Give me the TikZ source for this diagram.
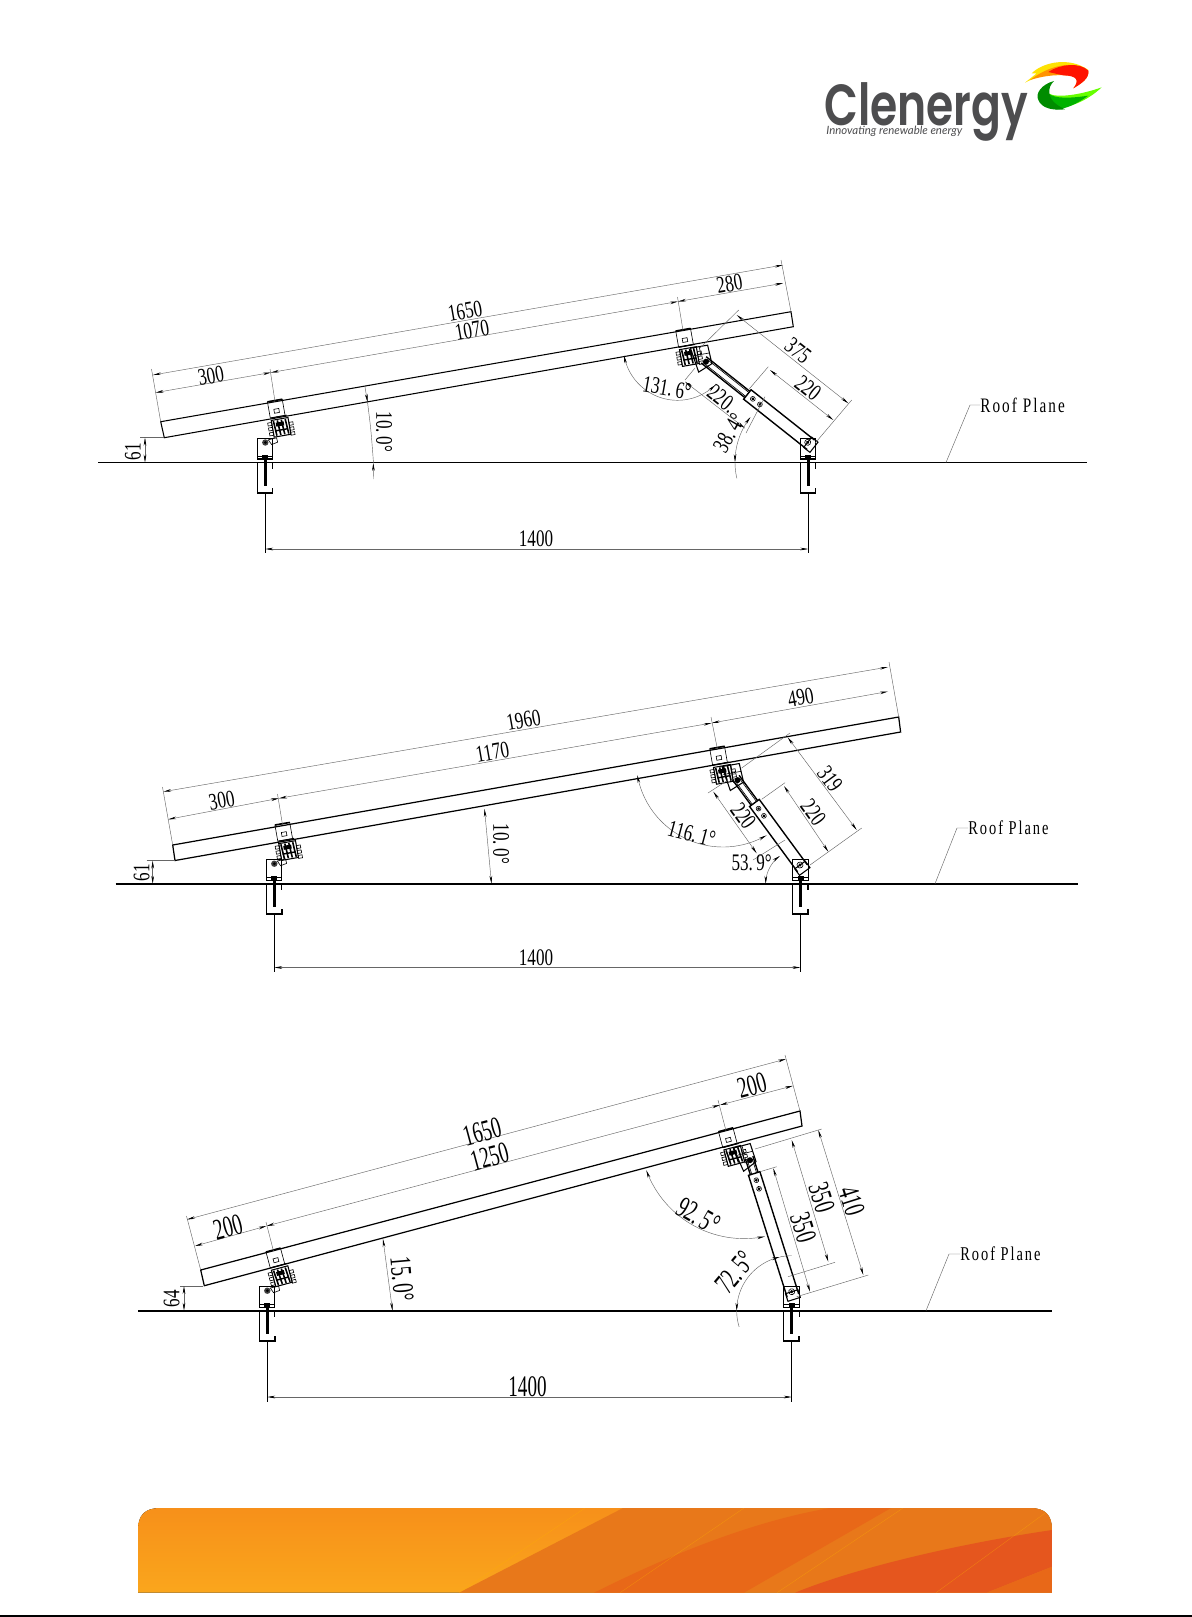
\documentclass[tikz,border=0pt]{standalone}
\usepackage{xcolor}
\usepackage{fontspec}
\usetikzlibrary{arrows.meta}
\newfontfamily\dimfont[FakeStretch=0.72]{Liberation Serif}
\newfontfamily\dimfontB[FakeStretch=0.64]{Liberation Serif}
\newfontfamily\roofont[FakeStretch=0.74,LetterSpace=10]{Liberation Serif}
\newfontfamily\logofont[FakeStretch=0.76]{Poppins SemiBold}
\newfontfamily\tagfont{Lato}
\definecolor{logogray}{HTML}{4D4D4F}
\definecolor{bandtop}{HTML}{F7901A}
\definecolor{bandbottom}{HTML}{FAA61C}
\definecolor{bandone}{HTML}{E8781A}
\definecolor{bandtwo}{HTML}{E86818}
\definecolor{bandthree}{HTML}{E5561E}
\tikzset{
  partline/.style={line width=0.6pt},
  railline/.style={line width=0.6pt},
  thinpart/.style={line width=0.35pt},
  extline/.style={line width=0.25pt,draw=black!60},
  dimtip/.style={-{Stealth[length=4.5pt,width=1.5pt,black]}},
  dimline/.style={line width=0.25pt,draw=black!60,{Stealth[length=4.5pt,width=1.5pt,black]}-{Stealth[length=4.5pt,width=1.5pt,black]}},
  dimtext/.style={font=\dimfont\fontsize{13.5}{15}\selectfont,inner sep=0pt,yshift=-0.5pt},
  dimtextB/.style={font=\dimfontB\fontsize{17}{19}\selectfont,inner sep=0pt,yshift=-0.5pt},
  rooftext/.style={font=\roofont\fontsize{11.7}{13}\selectfont,inner sep=0pt},
  rooftextB/.style={font=\roofont\fontsize{11.1}{13}\selectfont,inner sep=0pt},
  footstreak/.style={line width=0.2pt,draw=orange!60!yellow,opacity=0.45},
}
% wide gap after the point, as the drawing's font has it
\newcommand{\dpt}{.\kern2pt}
% arc of a dimension, angles as seen on the sheet
\newcommand{\dimarc}[6][]{\draw[extline,#1] plot[domain=#5:#6,samples=40,variable=\t] ({#2+#4*cos(\t)},{#3-#4*sin(\t)});}
\newcommand{\railclamp}[3]{%
\begin{scope}[shift={(#1,#2)},rotate=#3]
  \draw[thinpart] (-7.5,-1) rectangle (7.5,15.5);
  \draw[line width=0.9pt] (-7.5,-1) -- (7.5,-1);
  \draw[thinpart] (-2.5,7.5) rectangle (2.5,11.5);
  \draw[partline] (-7,15.5) -- (9,15.5);
  \draw[partline] (-7,18) rectangle (10,35);
  \foreach \i in {-5,-1,3,7}
    \draw[line width=0.9pt] (\i,19) -- (\i+1,34);
  \fill (-3,21) rectangle (5,25);
  \draw[line width=0.8pt] (-5,29) -- (8,29);
  \foreach \i in {20,25,30}
    \draw[thinpart] (-11,\i) rectangle (-7,\i+3);
  \foreach \i in {23,28,33}
    \draw[thinpart] (10,\i) rectangle (14,\i+3);
\end{scope}}
\newcommand{\footbracket}[3][0.6pt]{%
\begin{scope}[shift={(#2,#3)}]
  \draw[thinpart] (-8,-3) -- (-8,-24.5) -- (7.5,-24.5) -- (7.5,-3);
  \draw[partline] (-8,-6) -- (7.5,-6);
  \draw[partline] (-8,-3.5) -- (7.5,-3.5);
  \draw[line width=#1] (-8,0) -- (-8,30.5) -- (7.5,30.5) -- (7.5,25);
  \draw[partline] (7.5,0) -- (7.5,6);
  \draw[line width=1.5pt] (0,-6) -- (0,23);
  \fill (-3,-8) rectangle (3,-4);
\end{scope}}
\newcommand{\footlink}[2]{%
\begin{scope}[shift={(#1,#2)}]
  \fill[black!75] (0,-20) circle[radius=3.2];
  \fill (0,-20) circle[radius=1.5];
  \draw[thinpart] (3,-22.7) -- (11.3,-24.7) -- (12.3,-20.3) -- (6.3,-18) -- cycle;
\end{scope}}
% pivot, angle, length, end of sleeve, slope of the rail
\newcommand{\strutarm}[6]{%
\begin{scope}[shift={(#1,#2)},rotate=#3]
  \draw[partline] (-8,-6.5) rectangle (0,6.5);
  \draw[line width=0.8pt] (-4,-6) -- (#5,-6) -- (#5,6) -- (-4,6);
  \draw[line width=0.8pt] (#5,-4) -- (#4+3,-4) (#5,4) -- (#4+3,4);
  \draw[thinpart] (#5,-2.5) -- (#4,-2.5) (#5,2.5) -- (#4,2.5);
  \fill (0,0) circle[radius=1.8];
  \draw[thinpart] (0,0) circle[radius=3];
  \foreach \i in {7,16} {
    \draw[thinpart] (#5-\i,0) circle[radius=2.4];
    \fill (#5-\i,0) circle[radius=1.6];
  }
  \begin{scope}[shift={(#4,0)},rotate=#6-#3]
    \draw[partline] (-13,-16) -- (4.5,-16) -- (5.5,3) -- (-9,9) -- cycle;
    \draw[thinpart] (-4,-16) -- (-4,-7) (-13,-8) -- (5,-8);
    \fill (0,0) circle[radius=3];
  \end{scope}
\end{scope}}
\begin{document}
\begin{tikzpicture}[x=0.02cm,y=-0.02cm]
\useasboundingbox (0,0) rectangle (1192,1617);
\fill[white] (0,0) rectangle (1192,1617);
% logo
\begin{scope}[shift={(780,30)},scale=1/3]
  \fill[yellow!85!orange] (735,158) -- (770,130) -- (755,130) .. controls (790,95) and (870,80) .. (925,120) .. controls (880,108) and (800,125) .. (735,158);
  \fill[orange!85!yellow] (750,150) .. controls (810,105) and (880,90) .. (925,122) .. controls (928,145) and (905,160) .. (880,175) .. controls (900,150) and (890,136) .. (860,136) .. controls (820,134) and (790,138) .. (750,150);
  \fill[red!85!orange] (805,126) .. controls (840,102) and (900,96) .. (925,122) .. controls (928,145) and (905,160) .. (880,175) .. controls (900,150) and (890,137) .. (850,136) -- cycle;
  \fill[green!60!yellow] (805,190) .. controls (830,205) and (900,195) .. (965,172) .. controls (930,205) and (880,232) .. (830,234) .. controls (800,225) and (800,205) .. (805,190);
  \fill[green!70!black] (805,190) .. controls (825,207) and (870,205) .. (925,197) .. controls (890,222) and (860,236) .. (830,238) .. controls (800,228) and (800,205) .. (805,190);
  \fill[green!55!black] (822,153) .. controls (785,163) and (765,190) .. (775,210) .. controls (785,234) and (815,242) .. (855,238) .. controls (835,228) and (812,215) .. (808,190) .. controls (806,175) and (812,163) .. (822,153);
\end{scope}
\node[font=\logofont\fontsize{33}{36}\selectfont,text=logogray,anchor=base west,inner sep=0pt] (logoname) at (824,125) {Clenergy};
\node[font=\tagfont\itshape\fontsize{6.5}{8}\selectfont,text=logogray,anchor=base west,inner sep=0pt] (logotag) at (826,134) {Innovating renewable energy};
% top panel
\draw[railline] (160.7,421.7) -- (791,311.7) -- (793.3,326.7) -- (164.3,437.7) -- cycle;
\draw[railline] (98,462.5) -- (1087,462.5);
\railclamp{275}{401.5}{10}
\railclamp{683.3}{330.7}{10}
\footbracket{265.3}{462.5}
\footlink{265.3}{462.5}
\footbracket{808.3}{462.5}
\strutarm{807.7}{442.3}{141.6}{129.8}{77}{10}
\draw[thinpart] (265.3,493) -- (265.3,553);
\draw[thinpart] (808.3,493) -- (808.3,553);
\draw[dimline] (265.3,549) -- (808.3,549);
\draw[extline] (160.7,421.7) -- (151.5,369);
\draw[extline] (791,311.7) -- (781,260);
\draw[dimline] (153,375) -- (783,265);
\draw[dimline] (155.6,392.6) -- (271,372.5);
\draw[dimline] (271,372.5) -- (678,301.5);
\draw[dimline] (678,301.5) -- (783,283.2);
\draw[extline] (275,401.5) -- (270,369);
\draw[extline] (683,330.5) -- (677.5,297);
\draw[extline] (738.7,310) -- (700,348);
\draw[extline] (851.7,400) -- (815,443.3);
\draw[dimline] (736.7,315) -- (848.3,403.3);
\draw[extline] (768.3,366.7) -- (748.3,390);
\draw[dimline] (770,370) -- (833.3,420);
\draw[extline] (765,396.7) -- (746,433);
\draw[extline] (685,380) -- (695,368);
\draw[dimline] (685,381.7) -- (745,428.3);
\dimarc[dimline]{677.5}{346}{54.3}{190}{314}
\dimarc{808}{462}{73}{193}{180}
\dimarc[dimline]{808}{462}{73}{180}{142}
\draw[extline,dimtip] (365,387) -- (367.5,402);
\draw[extline] (367.5,402) .. controls (371,430) .. (373.5,463);
\draw[extline,dimtip] (373.5,479) -- (373.3,463);
\draw[extline] (140,437.7) -- (164,437.7);
\draw[dimline] (145,437.7) -- (145,462.5);
\node[dimtext,rotate=10] (lenA) at (465,310) {1650};
\node[dimtext,rotate=10] (spanA) at (472,329) {1070};
\node[dimtext,rotate=10] (leftA) at (211,375) {300};
\node[dimtext,rotate=10] (rightA) at (729.5,283) {280};
\node[dimtext,rotate=-38.4] (strutA) at (798,350) {375};
\node[dimtext,rotate=-38.4] (outerA) at (808,387) {220};
\node[dimtext,rotate=-38.4] (innerA) at (722,398) {220.};
\node[dimtext,rotate=-10] (railangA) at (667,387) {131\dpt 6°};
\node[dimtext,rotate=60] (roofangA) at (729,432) {38\dpt 4°};
\node[dimtext,rotate=-90] (tiltA) at (384,431) {10\dpt 0°};
\node[dimtext,rotate=90] (riseA) at (133,451) {61};
\node[dimtext] (baseA) at (536,538) {1400};
\node[rooftext,anchor=west] (roofA) at (980,405) {Roof Plane};
\draw[extline] (946,462.5) -- (970,405) -- (roofA.west);
% middle panel
\draw[line width=0.7pt] (172.7,845) -- (898.7,717) -- (900.6,732) -- (175,860.5) -- cycle;
\draw[line width=1pt] (115.5,883.7) -- (1078,883.7);
\railclamp{282.5}{824.7}{10}
\railclamp{717.3}{748.5}{10}
\footbracket[0.9pt]{274.3}{883.7}
\footlink{274.3}{883.7}
\footbracket[0.9pt]{800.5}{883.7}
\strutarm{800}{865}{126.3}{105.4}{77}{10}
\draw[thinpart] (274.3,914) -- (274.3,972);
\draw[thinpart] (800.5,914) -- (800.5,972);
\draw[dimline] (274.3,967.5) -- (800.5,967.5);
\draw[extline] (172.7,845) -- (162.5,787);
\draw[extline] (898.7,717) -- (889,662);
\draw[dimline] (163.3,791.7) -- (888,667);
\draw[dimline] (168.3,819.3) -- (279,798.3);
\draw[dimline] (279,798.3) -- (711.7,723);
\draw[dimline] (711.7,723) -- (888,691.5);
\draw[extline] (282.5,824.7) -- (277.5,794);
\draw[extline] (717.3,748.5) -- (711,717);
\draw[extline] (790,733) -- (741.7,768);
\draw[extline] (861.7,828) -- (810,865);
\draw[dimline] (787.7,737.3) -- (856.7,830);
\draw[extline] (785,782.7) -- (761.7,799.3);
\draw[dimline] (784,786) -- (828.3,851.7);
\draw[extline] (708,793) -- (728,780);
\draw[extline] (785,840) -- (753,860);
\draw[dimline] (713.3,791.7) -- (756.7,853.3);
\dimarc[dimline]{723}{760}{87}{190}{300}
\dimarc[dimline]{800}{883.7}{34.3}{180}{126}
\draw[dimline] (484.5,809) -- (491.5,883.7);
\draw[extline] (146.7,860.7) -- (175,860.7);
\draw[dimline] (152.7,860.7) -- (152.7,883.7);
\node[dimtext,rotate=10] (lenB) at (523.5,719) {1960};
\node[dimtext,rotate=10] (spanB) at (492.5,751) {1170};
\node[dimtext,rotate=10] (leftB) at (221.7,799.3) {300};
\node[dimtext,rotate=10] (rightB) at (800.7,696.6) {490};
\node[dimtext,rotate=-53.9] (strutB) at (830,778) {319};
\node[dimtext,rotate=-53.9] (outerB) at (813.3,811.7) {220};
\node[dimtext,rotate=-53.9] (innerB) at (743.3,815) {220};
\node[dimtext,rotate=-15] (railangB) at (691.7,833) {116\dpt 1°};
\node[dimtext] (roofangB) at (751.7,862) {53\dpt 9°};
\node[dimtext,rotate=-90] (tiltB) at (501,843) {10\dpt 0°};
\node[dimtext,rotate=90] (riseB) at (141.7,872) {61};
\node[dimtext] (baseB) at (536,957) {1400};
\node[rooftextB,anchor=west] (roofB) at (968,828) {Roof Plane};
\draw[extline] (935,883.7) -- (957,828) -- (roofB.west);
% bottom panel
\draw[line width=0.7pt] (200.7,1270) -- (800,1111) -- (802,1126) -- (204.3,1285.7) -- cycle;
\draw[line width=1pt] (138,1310.7) -- (1052,1310.7);
\railclamp{273.5}{1251}{15}
\railclamp{726}{1130.7}{15}
\footbracket[0.9pt]{267.3}{1310.7}
\footlink{267.3}{1310.7}
\footbracket[0.9pt]{791.7}{1310.7}
\strutarm{791.7}{1291.7}{107.6}{138}{124}{15}
\draw[thinpart] (267.3,1341) -- (267.3,1402);
\draw[thinpart] (791.7,1341) -- (791.7,1402);
\draw[dimline] (267.3,1397) -- (791.7,1397);
\draw[extline] (200.7,1270) -- (186.5,1216);
\draw[extline] (800,1111) -- (785,1055);
\draw[dimline] (187,1219.5) -- (786,1059);
\draw[dimline] (195,1246) -- (266.5,1226);
\draw[dimline] (266.5,1226) -- (720,1105);
\draw[dimline] (720,1105) -- (793,1085.8);
\draw[extline] (273.5,1251) -- (266,1222);
\draw[extline] (726,1130.7) -- (718,1100);
\draw[extline] (821.7,1129) -- (755,1149);
\draw[extline] (868.3,1275) -- (796.7,1296.7);
\draw[dimline] (818.3,1130) -- (863.3,1275);
\draw[dimline] (791.7,1140) -- (828.3,1261.7);
\draw[extline] (835,1262.3) -- (788,1276.7);
\draw[extline] (776.7,1166.7) -- (760,1171.7);
\draw[dimline] (773.3,1168.3) -- (810,1291.7);
\dimarc[dimline]{744}{1134.6}{104}{200}{281.6}
\dimarc{791.7}{1310.7}{55}{197}{180}
\dimarc[dimline]{791.7}{1310.7}{55}{180}{102.5}
\dimarc{791.7}{1310.7}{55}{102.5}{90}
\draw[dimline] (383,1239) -- (392.5,1310.7);
\draw[extline] (180,1286) -- (203,1286);
\draw[dimline] (184,1286) -- (184,1310.7);
\node[dimtextB,rotate=15] (lenC) at (482,1131) {1650};
\node[dimtextB,rotate=15] (spanC) at (489.5,1156) {1250};
\node[dimtextB,rotate=15] (leftC) at (228,1226) {200};
\node[dimtextB,rotate=15] (rightC) at (752,1084.5) {200};
\node[dimtextB,rotate=-72.5] (strutC) at (851.7,1200) {410};
\node[dimtextB,rotate=-72.5] (outerC) at (821.7,1196.7) {350};
\node[dimtextB,rotate=-72.5] (innerC) at (803.3,1226.7) {350};
\node[dimtextB,rotate=-30] (railangC) at (698.3,1215) {92\dpt 5°};
\node[dimtextB,rotate=50] (roofangC) at (735,1271.7) {72\dpt 5°};
\node[dimtextB,rotate=-85] (tiltC) at (402,1278) {15\dpt 0°};
\node[dimtext,rotate=90] (riseC) at (171.7,1298) {64};
\node[dimtextB] (baseC) at (527.5,1386) {1400};
\node[rooftextB,anchor=west] (roofC) at (960,1254) {Roof Plane};
\draw[extline] (926,1310.7) -- (949,1254) -- (roofC.west);
% footer band
\begin{scope}
  \clip (138,1592.7) -- (138,1530) .. controls (138,1515) and (145,1508) .. (160,1508) -- (1030,1508) .. controls (1045,1508) and (1052,1515) .. (1052,1530) -- (1052,1592.7) -- cycle;
  \fill[top color=bandtop,bottom color=bandbottom] (138,1508) rectangle (1052,1592.7);
  \fill[bandone] (623,1508) -- (1052,1508) -- (1052,1592.7) -- (459,1592.7) -- cycle;
  \fill[bandtwo] (830,1508) -- (891,1508) -- (744,1592.7) -- (594,1592.7) .. controls (630,1575) and (730,1525) .. (830,1508);
  \fill[bandthree] (795,1592.7) .. controls (850,1570) and (950,1545) .. (1052,1530) -- (1052,1566.7) -- (986.5,1592.7) -- cycle;
  \fill[bandtwo] (986.5,1592.7) -- (1052,1566.7) -- (1052,1592.7) -- cycle;
  \foreach \a/\b in {585/459,744/620,903/777,1052/936}
    \draw[footstreak] (\a,1508) -- (\b,1592.7);
\end{scope}
\fill (0,1615) rectangle (1192,1617);
\end{tikzpicture}
\end{document}
